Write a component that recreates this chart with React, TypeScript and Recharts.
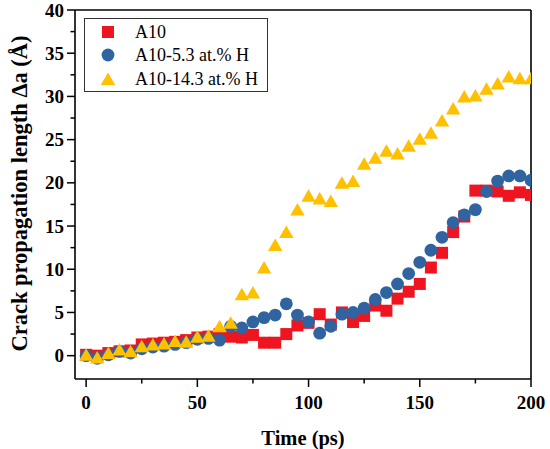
import React from 'react';
import { ScatterChart, Scatter, XAxis, YAxis, Customized } from 'recharts';

if (typeof document !== 'undefined') {
  document.body.style.margin = '0';
}

const time = [0, 5, 10, 15, 20, 25, 30, 35, 40, 45, 50, 55, 60, 65, 70, 75, 80, 85, 90, 95, 100, 105, 110, 115, 120, 125, 130, 135, 140, 145, 150, 155, 160, 165, 170, 175, 180, 185, 190, 195, 200];

const a10 = [0.1, 0.0, 0.3, 0.5, 0.6, 1.3, 1.4, 1.5, 1.6, 1.8, 2.1, 2.2, 2.5, 2.2, 2.1, 2.4, 1.5, 1.5, 2.5, 3.5, 3.8, 4.8, 3.6, 5.0, 3.9, 4.6, 5.8, 5.2, 6.6, 7.4, 8.3, 10.2, 11.9, 14.3, 16.1, 19.1, 19.1, 19.0, 18.5, 18.9, 18.6];

const a10h53 = [0.0, -0.3, 0.1, 0.5, 0.3, 0.8, 1.0, 1.1, 1.3, 1.5, 1.9, 2.0, 1.8, 3.4, 3.2, 3.9, 4.4, 4.7, 6.0, 4.7, 3.9, 2.6, 3.4, 4.8, 5.0, 5.5, 6.5, 7.3, 8.3, 9.5, 10.8, 12.2, 13.7, 15.4, 16.3, 16.9, 19.0, 20.2, 20.8, 20.8, 20.3];

const a10h143 = [0.1, -0.2, 0.3, 0.7, 0.5, 1.1, 1.3, 1.4, 1.7, 1.6, 2.2, 2.3, 3.4, 3.8, 7.1, 7.3, 10.2, 12.8, 14.3, 16.9, 18.5, 18.2, 17.9, 20.0, 20.2, 22.2, 22.9, 23.7, 23.4, 24.3, 25.1, 25.8, 27.2, 28.6, 30.0, 30.1, 30.9, 31.5, 32.3, 32.1, 32.1];

const seriesNames = ['A10', 'A10-5.3 at.% H', 'A10-14.3 at.% H'];
const xTicks = [0, 25, 50, 75, 100, 125, 150, 175, 200];
const yTicks = [0, 2.5, 5, 7.5, 10, 12.5, 15, 17.5, 20, 22.5, 25, 27.5, 30, 32.5, 35, 37.5, 40];

const RED = '#EE1520';
const BLUE = '#2F64A0';
const YELLOW = '#FFC000';
const FONT = '"Liberation Serif", "Times New Roman", serif';

const toPoints = (vals: number[]) => time.map((t, i) => ({ x: t, y: vals[i] }));
const dataA10 = toPoints(a10);
const dataA10H53 = toPoints(a10h53);
const dataA10H143 = toPoints(a10h143);

const SquareShape = (p: any) => (
  <rect x={p.cx - 6} y={p.cy - 6} width={12} height={12} fill={RED} />
);
const CircleShape = (p: any) => <circle cx={p.cx} cy={p.cy} r={6.4} fill={BLUE} />;
const TriangleShape = (p: any) => (
  <polygon
    points={`${p.cx},${p.cy - 6.5} ${p.cx + 7.2},${p.cy + 6} ${p.cx - 7.2},${p.cy + 6}`}
    fill={YELLOW}
  />
);

const XTick = (props: any) => {
  const { x, y, payload } = props;
  const major = payload.value % 50 === 0;
  return (
    <g>
      <line x1={x} x2={x} y1={y} y2={y + (major ? 8 : 4.5)} stroke="#000" strokeWidth={1.5} />
      {major && (
        <text x={x} y={y + 30} textAnchor="middle" fontFamily={FONT} fontWeight="bold" fontSize={19} fill="#000">
          {payload.value}
        </text>
      )}
    </g>
  );
};

const YTick = (props: any) => {
  const { x, y, payload } = props;
  const major = payload.value % 5 === 0;
  return (
    <g>
      <line x1={x} x2={x - (major ? 8 : 4.5)} y1={y} y2={y} stroke="#000" strokeWidth={1.5} />
      {major && (
        <text x={x - 11} y={y} dy="0.35em" textAnchor="end" fontFamily={FONT} fontWeight="bold" fontSize={19} fill="#000">
          {payload.value}
        </text>
      )}
    </g>
  );
};

const XLabel = (props: any) => {
  const vb = props.viewBox || {};
  return (
    <text x={vb.x + vb.width / 2} y={vb.y + 66} textAnchor="middle" fontFamily={FONT} fontWeight="bold" fontSize={20.5} fill="#000">
      Time (ps)
    </text>
  );
};

const YLabel = (props: any) => {
  const vb = props.viewBox || {};
  const cx = vb.x + vb.width - 48;
  const cy = vb.y + vb.height / 2 - 1;
  return (
    <text x={cx} y={cy} transform={`rotate(-90, ${cx}, ${cy})`} textAnchor="middle" fontFamily={FONT} fontWeight="bold" fontSize={22.5} fill="#000">
      Crack propagation length Δa (Å)
    </text>
  );
};

const LegendBox = () => {
  const rows = [
    { name: seriesNames[0], Shape: SquareShape, y: 32 },
    { name: seriesNames[1], Shape: CircleShape, y: 55 },
    { name: seriesNames[2], Shape: TriangleShape, y: 79 },
  ];
  return (
    <g>
      <rect x={84.5} y={18.5} width={183} height={73} fill="#fff" stroke="#333" strokeWidth={1} />
      {rows.map((r) => (
        <g key={r.name}>
          <r.Shape cx={108} cy={r.y} />
          <text x={135} y={r.y + 6} fontFamily={FONT} fontSize={18} fill="#000">
            {r.name}
          </text>
        </g>
      ))}
    </g>
  );
};

export default function App() {
  return (
    <div style={{ width: 550, height: 449, background: '#fff' }}>
      <ScatterChart width={550} height={449} margin={{ top: 9, right: 18, bottom: 69, left: 74 }}>
        <XAxis
          xAxisId="main"
          dataKey="x"
          type="number"
          domain={[-5, 200]}
          ticks={xTicks}
          interval={0}
          height={1}
          tickSize={0}
          tickMargin={0}
          tickLine={false}
          tick={<XTick />}
          axisLine={{ stroke: '#000', strokeWidth: 1.6 }}
          label={<XLabel />}
          allowDataOverflow
        />
        <XAxis
          xAxisId="top"
          orientation="top"
          type="number"
          domain={[-5, 200]}
          ticks={xTicks}
          height={1}
          tick={false}
          tickLine={false}
          axisLine={{ stroke: '#000', strokeWidth: 1.6 }}
        />
        <YAxis
          yAxisId="main"
          dataKey="y"
          type="number"
          domain={[-2.7, 40]}
          ticks={yTicks}
          interval={0}
          width={1}
          tickSize={0}
          tickMargin={0}
          tickLine={false}
          tick={<YTick />}
          axisLine={{ stroke: '#000', strokeWidth: 1.6 }}
          label={<YLabel />}
          allowDataOverflow
        />
        <YAxis
          yAxisId="right"
          orientation="right"
          type="number"
          domain={[-2.7, 40]}
          ticks={yTicks}
          width={1}
          tick={false}
          tickLine={false}
          axisLine={{ stroke: '#000', strokeWidth: 1.6 }}
        />
        <Scatter xAxisId="main" yAxisId="main" name={seriesNames[0]} data={dataA10} shape={SquareShape} isAnimationActive={false} />
        <Scatter xAxisId="main" yAxisId="main" name={seriesNames[1]} data={dataA10H53} shape={CircleShape} isAnimationActive={false} />
        <Scatter xAxisId="main" yAxisId="main" name={seriesNames[2]} data={dataA10H143} shape={TriangleShape} isAnimationActive={false} />
        <Customized component={<LegendBox />} />
      </ScatterChart>
    </div>
  );
}
